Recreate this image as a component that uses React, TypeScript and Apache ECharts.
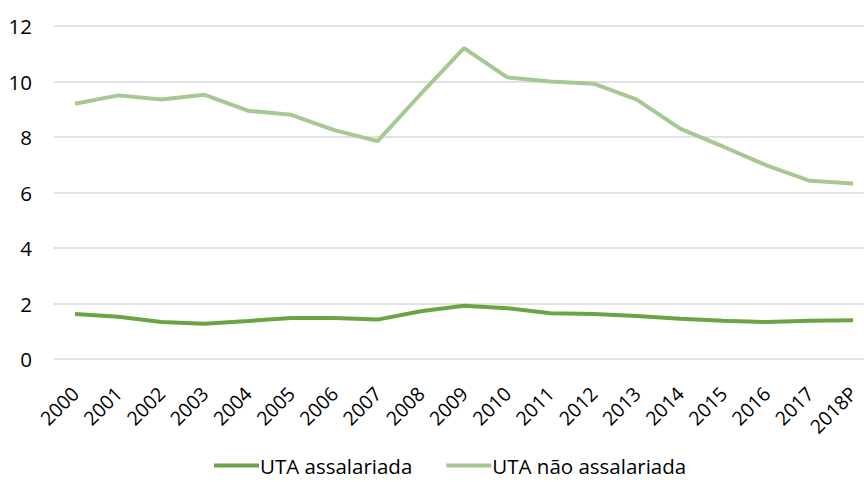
import React, { useEffect, useRef } from "react";
import * as echarts from "echarts";

const categories = ["2000","2001","2002","2003","2004","2005","2006","2007","2008","2009","2010","2011","2012","2013","2014","2015","2016","2017","2018P"];
const utaAssalariada = [1.62,1.52,1.33,1.27,1.37,1.48,1.48,1.42,1.72,1.92,1.83,1.65,1.62,1.55,1.45,1.38,1.33,1.38,1.40];
const utaNaoAssalariada = [9.2,9.5,9.35,9.52,8.95,8.8,8.25,7.85,9.55,11.2,10.15,10.0,9.92,9.35,8.3,7.65,6.98,6.42,6.32];
const yTicks = { min: 0, max: 12, interval: 2 };

export default function App() {
  const ref = useRef<HTMLDivElement>(null);
  useEffect(() => {
    const chart = echarts.init(ref.current!, null, { renderer: "svg" });
    const font = "'Open Sans', 'Liberation Sans', sans-serif";
    chart.setOption({
      animation: false,
      textStyle: { fontFamily: font },
      grid: [
        { left: 75, top: 26, right: 11, height: 333, containLabel: false },
        { left: 54, top: 26, right: 0, height: 333, containLabel: false },
      ],
      legend: {
        bottom: 1,
        left: 209,
        itemWidth: 45,
        itemHeight: 4,
        itemGap: 34,
        icon: "rect",
        textStyle: { fontSize: 20.5, color: "#000", fontFamily: font, padding: [0, 0, 0, -4] },
        data: ["UTA assalariada", "UTA não assalariada"],
      },
      xAxis: [
        {
          type: "category",
          gridIndex: 0,
          data: categories,
          boundaryGap: false,
          axisLine: { show: false },
          axisTick: { show: false },
          splitLine: { show: false },
          axisLabel: { rotate: 45, fontSize: 19.5, color: "#000", margin: 31, interval: 0, fontFamily: font },
        },
        {
          type: "value",
          gridIndex: 1,
          show: false,
          min: 0,
          max: 1,
        },
      ],
      yAxis: [
        {
          type: "value",
          gridIndex: 0,
          min: yTicks.min,
          max: yTicks.max,
          interval: yTicks.interval,
          show: false,
          splitLine: { show: false },
        },
        {
          type: "value",
          gridIndex: 1,
          min: yTicks.min,
          max: yTicks.max,
          interval: yTicks.interval,
          axisLine: { show: false },
          axisTick: { show: false },
          axisLabel: { fontSize: 20.5, color: "#000", margin: 22, fontFamily: font },
          splitLine: { lineStyle: { color: "#d9d9d9", width: 1.5 } },
        },
      ],
      series: [
        {
          name: "UTA assalariada",
          type: "line",
          xAxisIndex: 0,
          yAxisIndex: 0,
          data: utaAssalariada,
          symbol: "none",
          z: 3,
          lineStyle: { color: "#6aa544", width: 4 },
          itemStyle: { color: "#6aa544" },
        },
        {
          name: "UTA não assalariada",
          type: "line",
          xAxisIndex: 0,
          yAxisIndex: 0,
          data: utaNaoAssalariada,
          symbol: "none",
          z: 3,
          lineStyle: { color: "#a5c990", width: 4 },
          itemStyle: { color: "#a5c990" },
        },
      ],
    });
    return () => chart.dispose();
  }, []);
  return <div ref={ref} style={{ width: 864, height: 482, position: "absolute", left: 0, top: 0 }} />;
}
